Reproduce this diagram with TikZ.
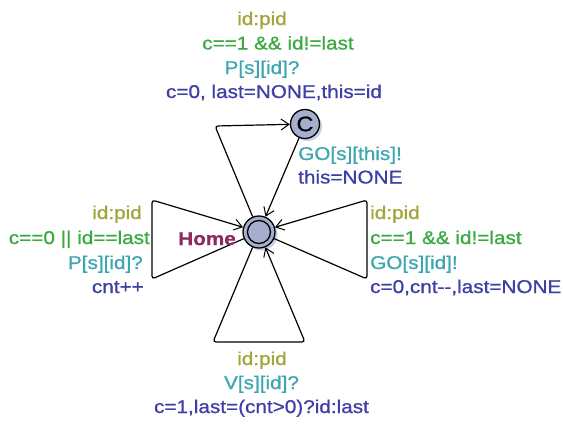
\documentclass[tikz,border=0pt]{standalone}
\usepackage{fontspec}
\setmainfont{Liberation Sans}[FakeStretch=1.12,FakeBold=0.9]
\usetikzlibrary{arrows.meta}
\definecolor{selcol}{RGB}{163,164,58}
\definecolor{guardcol}{RGB}{58,170,64}
\definecolor{synccol}{RGB}{62,166,176}
\definecolor{assigncol}{RGB}{62,62,166}
\definecolor{namecol}{RGB}{140,44,92}
\definecolor{locfill}{RGB}{166,174,206}
\definecolor{shadowcol}{RGB}{200,206,232}
\tikzset{
  lbl/.style={inner sep=0pt, font=\fontsize{18.5}{22}\selectfont},
  sel/.style={lbl, text=selcol},
  guard/.style={lbl, text=guardcol},
  sync/.style={lbl, text=synccol},
  assign/.style={lbl, text=assigncol},
  lname/.style={lbl, text=namecol, font=\fontsize{18.5}{22}\selectfont\bfseries},
  loc/.style={circle, draw=black, line width=1.3pt, fill=locfill, inner sep=0pt},
  shad/.style={circle, fill=shadowcol, inner sep=0pt},
  edge/.style={draw=black, line width=1.2pt, rounded corners=3pt, -{Straight Barb[length=8pt,width=11pt,line width=1pt]}},
}
\begin{document}
\begin{tikzpicture}[x=1pt,y=-1pt]
\useasboundingbox (0,0) rectangle (563,424);
% shadows
\node[shad, minimum size=32pt] (homeshad) at (261.5,234.5) {};
\node[shad, minimum size=29pt] (cshad) at (307.5,126.5) {};
% locations
\node[loc, minimum size=32pt] (home) at (259,232) {};
\node[circle, draw=black, line width=1.3pt, inner sep=0pt, minimum size=23pt] (homein) at (259,232) {};
\node[loc, minimum size=29pt, font=\fontsize{21}{21}\selectfont] (c) at (305,124) {C};
% nails
\coordinate (tl) at (215,126);
\coordinate (l1) at (152,200);
\coordinate (l2) at (152,279);
\coordinate (r1) at (367,200);
\coordinate (r2) at (367,279);
\coordinate (b1) at (213,342);
\coordinate (b2) at (305,342);
% edges
\draw[edge] (home) -- (tl) -- (c);
\draw[edge] (c) -- (home);
\draw[edge] (home) -- (l2) -- (l1) -- (home);
\draw[edge] (home) -- (r2) -- (r1) -- (home);
\draw[edge] (home) -- (b1) -- (b2) -- (home);
% name
\node[lname, anchor=base east] (homename) at (236,245) {Home};
% top edge labels
\node[sel, anchor=base] (tsel) at (262,25) {id:pid};
\node[guard, anchor=base] (tguard) at (278,49.5) {c==1 \&\& id!=last};
\node[sync, anchor=base] (tsync) at (262,74) {P[s][id]?};
\node[assign, anchor=base] (tassign) at (274,98) {c=0, last=NONE,this=id};
% C -> home labels
\node[sync, anchor=base west] (csync) at (298,160) {GO[s][this]!};
\node[assign, anchor=base west] (cassign) at (298,183.5) {this=NONE};
% left loop labels
\node[sel, anchor=base east] (lsel) at (142,219) {id:pid};
\node[guard, anchor=base east] (lguard) at (150,244) {c==0 || id==last};
\node[sync, anchor=base east] (lsync) at (143,269) {P[s][id]?};
\node[assign, anchor=base east] (lassign) at (144,293) {cnt++};
% right loop labels
\node[sel, anchor=base west] (rsel) at (370,219) {id:pid};
\node[guard, anchor=base west] (rguard) at (370,244) {c==1 \&\& id!=last};
\node[sync, anchor=base west] (rsync) at (370,269) {GO[s][id]!};
\node[assign, anchor=base west] (rassign) at (370,293) {c=0,cnt-{}-,last=NONE};
% bottom loop labels
\node[sel, anchor=base] (bsel) at (262,365) {id:pid};
\node[sync, anchor=base] (bsync) at (261.5,389) {V[s][id]?};
\node[assign, anchor=base] (bassign) at (261.5,413) {c=1,last=(cnt>0)?id:last};
\end{tikzpicture}
\end{document}
